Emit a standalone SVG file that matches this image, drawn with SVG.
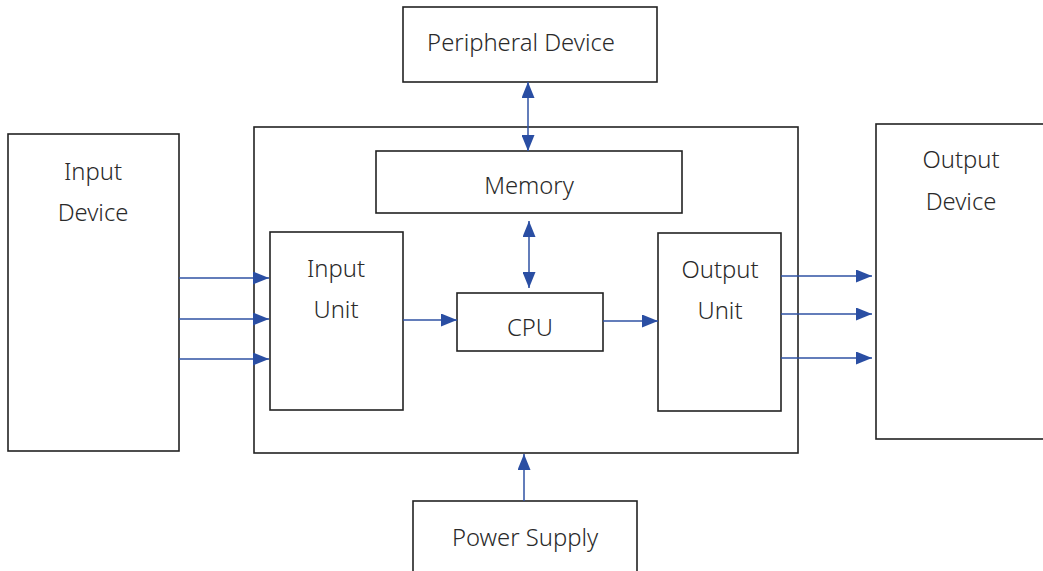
<svg xmlns="http://www.w3.org/2000/svg" width="1043" height="571" viewBox="0 0 1043 571">
<style>
.box{fill:#fff;stroke:#222;stroke-width:1.6}
.t{font-family:"Noto Sans","Open Sans",sans-serif;font-size:23.8px;font-weight:300;fill:#2a2a2a;text-anchor:middle}
.c{stroke:#2f52a3;stroke-width:1.5;fill:none}
</style>
<defs>
<marker id="ah" viewBox="0 0 16 13" refX="16" refY="6.5" markerWidth="16" markerHeight="13" markerUnits="userSpaceOnUse" orient="auto-start-reverse">
<path d="M0,0 L16,6.5 L0,13 Z" fill="#2a4ea3"/>
</marker>
</defs>
<rect width="1043" height="571" fill="#fff"/>
<g id="main"><rect class="box" x="254" y="127" width="544" height="326"/></g>
<g id="input-device"><rect class="box" x="8" y="134" width="171" height="317"/><text class="t" x="93" y="180">Input</text><text class="t" x="93" y="221">Device</text></g>
<g id="peripheral"><rect class="box" x="403" y="7" width="254" height="75"/><text class="t" x="521" y="51">Peripheral Device</text></g>
<g id="memory"><rect class="box" x="376" y="151" width="306" height="62"/><text class="t" x="529" y="194">Memory</text></g>
<g id="input-unit"><rect class="box" x="270" y="232" width="133" height="178"/><text class="t" x="336" y="277">Input</text><text class="t" x="336" y="318">Unit</text></g>
<g id="cpu"><rect class="box" x="457" y="293" width="146" height="58"/><text class="t" x="530" y="336">CPU</text></g>
<g id="output-unit"><rect class="box" x="658" y="233" width="123" height="178"/><text class="t" x="720" y="278">Output</text><text class="t" x="720" y="319">Unit</text></g>
<g id="output-device"><rect class="box" x="876" y="124" width="180" height="315"/><text class="t" x="961" y="168">Output</text><text class="t" x="961" y="210">Device</text></g>
<g id="power"><rect class="box" x="413" y="501" width="224" height="80"/><text class="t" x="525" y="546">Power Supply</text></g>
<g id="connectors">
<line class="c" x1="179" y1="278" x2="269" y2="278" marker-end="url(#ah)"/>
<line class="c" x1="179" y1="319" x2="269" y2="319" marker-end="url(#ah)"/>
<line class="c" x1="179" y1="359" x2="269" y2="359" marker-end="url(#ah)"/>
<line class="c" x1="403" y1="320" x2="457" y2="320" marker-end="url(#ah)"/>
<line class="c" x1="603" y1="321" x2="658" y2="321" marker-end="url(#ah)"/>
<line class="c" x1="781" y1="276" x2="872" y2="276" marker-end="url(#ah)"/>
<line class="c" x1="781" y1="314" x2="872" y2="314" marker-end="url(#ah)"/>
<line class="c" x1="781" y1="358" x2="872" y2="358" marker-end="url(#ah)"/>
<line class="c" x1="528" y1="82" x2="528" y2="151" marker-start="url(#ah)" marker-end="url(#ah)"/>
<line class="c" x1="529" y1="221" x2="529" y2="288" marker-start="url(#ah)" marker-end="url(#ah)"/>
<line class="c" x1="524" y1="501" x2="524" y2="454" marker-end="url(#ah)"/>
</g>
</svg>
